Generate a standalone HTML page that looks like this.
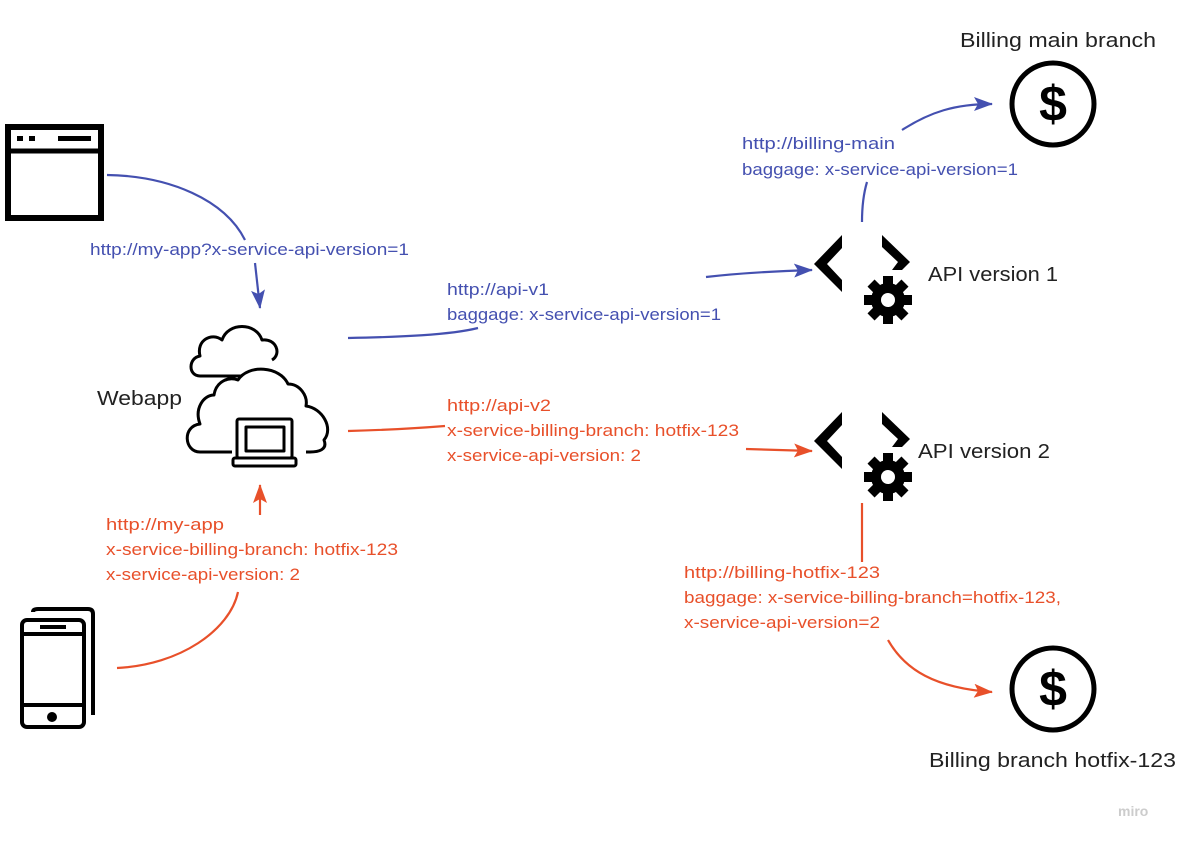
<!DOCTYPE html>
<html><head><meta charset="utf-8"><style>
html,body{margin:0;padding:0;background:#fff;}
svg{display:block;font-family:"Liberation Sans",sans-serif;}
.b{fill:#4450b0;font-size:16.5px}
.r{fill:#e8502a;font-size:16.5px}
.k{fill:#222;font-size:20px}
</style></head><body>
<svg width="1182" height="845" viewBox="0 0 1182 845">
<defs>
<marker id="ab" markerWidth="20" markerHeight="14" refX="18" refY="7" orient="auto" markerUnits="userSpaceOnUse"><path d="M0,0 L19,7 L0,14 L4,7z" fill="#4450b0"/></marker>
<marker id="ar" markerWidth="20" markerHeight="14" refX="18" refY="7" orient="auto" markerUnits="userSpaceOnUse"><path d="M0,0 L19,7 L0,14 L4,7z" fill="#e8502a"/></marker>
</defs>
<!-- browser -->
<rect x="8" y="127" width="93" height="91" fill="none" stroke="#000" stroke-width="6"/>
<line x1="8" y1="151" x2="101" y2="151" stroke="#000" stroke-width="5"/>
<rect x="17" y="136" width="6" height="5" fill="#000"/><rect x="29" y="136" width="6" height="5" fill="#000"/>
<rect x="58" y="136" width="33" height="5" fill="#000"/>
<!-- cloud -->
<g fill="none" stroke="#000" stroke-width="3" stroke-linejoin="round">
<path d="M200,376 C188,376 188,358 200,356 C196,340 212,332 222,340 C228,322 256,322 262,340 C276,338 282,354 272,360"/>
<path d="M242,376 L200,376"/>
<path d="M232,452 L200,452 C184,452 182,426 200,424 C194,408 204,395 214,395 C216,382 228,376 238,380 C248,364 280,366 288,384 C300,384 308,396 306,406 C322,408 334,428 324,440 C328,450 318,452 310,452 L306,452"/>
<rect x="237" y="419" width="55" height="39" rx="2"/>
<rect x="246" y="427" width="38" height="24"/>
<rect x="233" y="458" width="63" height="8" rx="2"/>
</g>
<text x="97" y="405" class="k" textLength="85" lengthAdjust="spacingAndGlyphs">Webapp</text>
<!-- phone -->
<g fill="none" stroke="#000" stroke-width="4">
<path d="M33,612 Q33,609 38,609 L88,609 Q93,609 93,614 L93,715"/>
<rect x="22" y="620" width="62" height="107" rx="5"/>
<line x1="22" y1="634" x2="84" y2="634"/><line x1="22" y1="705" x2="84" y2="705"/>
<line x1="40" y1="627" x2="66" y2="627"/>
</g>
<circle cx="52" cy="717" r="5" fill="#000"/>
<!-- API icons -->
<g fill="#000">
<path d="M842,235 L842,248 L827,264 L842,280 L842,292 L814,264z"/>
<path d="M882,235 L910,262 L902,270 L892,270 L898,262 L882,247z"/>
<path d="M842,412 L842,425 L827,441 L842,457 L842,469 L814,441z"/>
<path d="M882,412 L910,439 L902,447 L892,447 L898,439 L882,424z"/>
</g>
<g transform="translate(888,300)">
<circle r="17" fill="#000"/>
<g fill="#000"><rect x="-5" y="-24" width="10" height="48"/><rect x="-24" y="-5" width="48" height="10"/>
<rect x="-5" y="-24" width="10" height="48" transform="rotate(45)"/><rect x="-5" y="-24" width="10" height="48" transform="rotate(-45)"/></g>
<circle r="7" fill="#fff"/>
</g>
<g transform="translate(888,477)">
<circle r="17" fill="#000"/>
<g fill="#000"><rect x="-5" y="-24" width="10" height="48"/><rect x="-24" y="-5" width="48" height="10"/>
<rect x="-5" y="-24" width="10" height="48" transform="rotate(45)"/><rect x="-5" y="-24" width="10" height="48" transform="rotate(-45)"/></g>
<circle r="7" fill="#fff"/>
</g>
<text x="928" y="281" class="k" textLength="130" lengthAdjust="spacingAndGlyphs">API version 1</text>
<text x="918" y="458" class="k" textLength="132" lengthAdjust="spacingAndGlyphs">API version 2</text>
<!-- dollars -->
<circle cx="1053" cy="104" r="41" fill="none" stroke="#000" stroke-width="5"/>
<text x="1053" y="121" text-anchor="middle" style="font-size:50px;font-weight:bold" fill="#000">$</text>
<circle cx="1053" cy="689" r="41" fill="none" stroke="#000" stroke-width="5"/>
<text x="1053" y="706" text-anchor="middle" style="font-size:50px;font-weight:bold" fill="#000">$</text>
<text x="960" y="47" class="k" textLength="196" lengthAdjust="spacingAndGlyphs">Billing main branch</text>
<text x="929" y="767" class="k" textLength="247" lengthAdjust="spacingAndGlyphs">Billing branch hotfix-123</text>
<!-- connectors -->
<g fill="none" stroke-width="2.2">
<path d="M107,175 C170,176 225,200 245,240" stroke="#4450b0"/>
<path d="M255,263 L260,308" stroke="#4450b0" marker-end="url(#ab)"/>
<path d="M348,338 C400,337 450,335 478,328" stroke="#4450b0"/>
<path d="M706,277 C740,273 780,271 812,270" stroke="#4450b0" marker-end="url(#ab)"/>
<path d="M862,222 C862,205 864,192 867,182" stroke="#4450b0"/>
<path d="M902,130 C930,112 955,104 992,104" stroke="#4450b0" marker-end="url(#ab)"/>
<path d="M348,431 C385,430 420,428 445,426" stroke="#e8502a"/>
<path d="M746,449 L812,451" stroke="#e8502a" marker-end="url(#ar)"/>
<path d="M862,503 L862,562" stroke="#e8502a"/>
<path d="M888,640 C905,670 935,688 992,692" stroke="#e8502a" marker-end="url(#ar)"/>
<path d="M117,668 C180,665 230,630 238,592" stroke="#e8502a"/>
<path d="M260,515 L260,485" stroke="#e8502a" marker-end="url(#ar)"/>
</g>
<!-- labels -->
<text x="90" y="255" class="b" textLength="319" lengthAdjust="spacingAndGlyphs">http://my-app?x-service-api-version=1</text>
<text x="447" y="295" class="b" textLength="102" lengthAdjust="spacingAndGlyphs">http://api-v1</text>
<text x="447" y="320" class="b" textLength="274" lengthAdjust="spacingAndGlyphs">baggage: x-service-api-version=1</text>
<text x="742" y="149" class="b" textLength="153" lengthAdjust="spacingAndGlyphs">http://billing-main</text>
<text x="742" y="175" class="b" textLength="276" lengthAdjust="spacingAndGlyphs">baggage: x-service-api-version=1</text>
<text x="447" y="411" class="r" textLength="104" lengthAdjust="spacingAndGlyphs">http://api-v2</text>
<text x="447" y="436" class="r" textLength="292" lengthAdjust="spacingAndGlyphs">x-service-billing-branch: hotfix-123</text>
<text x="447" y="461" class="r" textLength="194" lengthAdjust="spacingAndGlyphs">x-service-api-version: 2</text>
<text x="106" y="530" class="r" textLength="118" lengthAdjust="spacingAndGlyphs">http://my-app</text>
<text x="106" y="555" class="r" textLength="292" lengthAdjust="spacingAndGlyphs">x-service-billing-branch: hotfix-123</text>
<text x="106" y="580" class="r" textLength="194" lengthAdjust="spacingAndGlyphs">x-service-api-version: 2</text>
<text x="684" y="578" class="r" textLength="196" lengthAdjust="spacingAndGlyphs">http://billing-hotfix-123</text>
<text x="684" y="603" class="r" textLength="377" lengthAdjust="spacingAndGlyphs">baggage: x-service-billing-branch=hotfix-123,</text>
<text x="684" y="628" class="r" textLength="196" lengthAdjust="spacingAndGlyphs">x-service-api-version=2</text>
<text x="1118" y="816" style="font-size:14px;font-weight:bold" fill="#ccc">miro</text>
</svg>
</body></html>
